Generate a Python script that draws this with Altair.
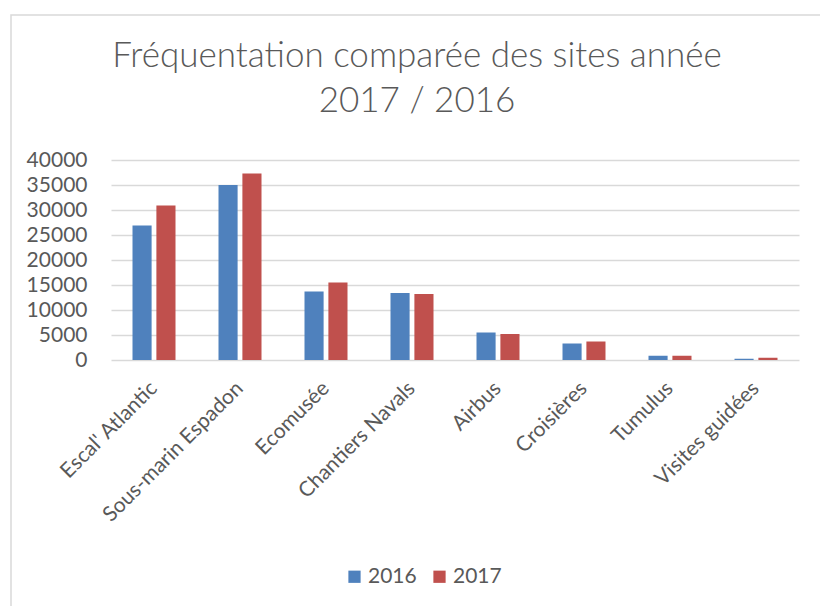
import altair as alt
import pandas as pd

sites = ["Escal' Atlantic", "Sous-marin Espadon", "Ecomusée", "Chantiers Navals",
         "Airbus", "Croisières", "Tumulus", "Visites guidées"]
v2016 = [26900, 35000, 13700, 13400, 5500, 3300, 850, 250]
v2017 = [30900, 37300, 15500, 13200, 5200, 3700, 850, 450]
years = ["2016", "2017"]
colors = ["#4F81BD", "#C0504D"]
title_lines = "Fréquentation comparée des sites année\n2017 / 2016"

rows = []
for s, a, b in zip(sites, v2016, v2017):
    rows.append({"site": s, "year": years[0], "value": a})
    rows.append({"site": s, "year": years[1], "value": b})
df = pd.DataFrame(rows)

FONT = "Lato"
TXT = "#595959"

bars = alt.Chart(df).mark_bar().encode(
    x=alt.X("site:N", sort=sites, title=None,
            scale=alt.Scale(paddingInner=0.5, paddingOuter=0.25),
            axis=alt.Axis(labelAngle=-45, labelAlign="right", labelBaseline="middle",
                          labelFontSize=21, labelFont=FONT, labelColor=TXT,
                          labelPadding=25, domain=False, ticks=False, labelOverlap=False,
                          labelLimit=400)),
    xOffset=alt.XOffset("year:N", scale=alt.Scale(paddingInner=0.2, paddingOuter=0)),
    y=alt.Y("value:Q", title=None,
            scale=alt.Scale(domain=[0, 40000], nice=False),
            axis=alt.Axis(values=list(range(0, 40001, 5000)), labelFontSize=21,
                          labelFont=FONT, labelColor=TXT, labelPadding=24,
                          domain=False, ticks=False, grid=True, gridColor="#d9d9d9",
                          gridWidth=1.3, format="d")),
    color=alt.Color("year:N", scale=alt.Scale(domain=years, range=colors),
                    legend=alt.Legend(title=None, orient="none", legendX=233, legendY=406,
                                      direction="horizontal", symbolType="square",
                                      symbolSize=150, symbolStrokeWidth=0,
                                      labelFontSize=21, labelFont=FONT, labelColor=TXT,
                                      columnPadding=12, labelOffset=3)),
)

frame = alt.Chart(pd.DataFrame({"a": [0]})).mark_rect(
    fill=None, stroke="#d9d9d9", strokeWidth=1.5
).encode(x=alt.value(-100), x2=alt.value(730), y=alt.value(-145), y2=alt.value(470))

title = alt.Chart(pd.DataFrame({"t": [title_lines]})).mark_text(
    font=FONT, fontSize=35, fontWeight=300, color=TXT, align="center",
    baseline="alphabetic", lineBreak="\n", lineHeight=45
).encode(text="t:N", x=alt.value(306), y=alt.value(-93))

chart = alt.layer(frame, title, bars).properties(
    width=688, height=200,
    autosize=alt.AutoSizeParams(type="none"),
    padding={"left": 111, "top": 160, "right": 21, "bottom": 246},
).configure_view(stroke=None)

chart.save("out.html", embed_options={"renderer": "svg", "actions": False})
